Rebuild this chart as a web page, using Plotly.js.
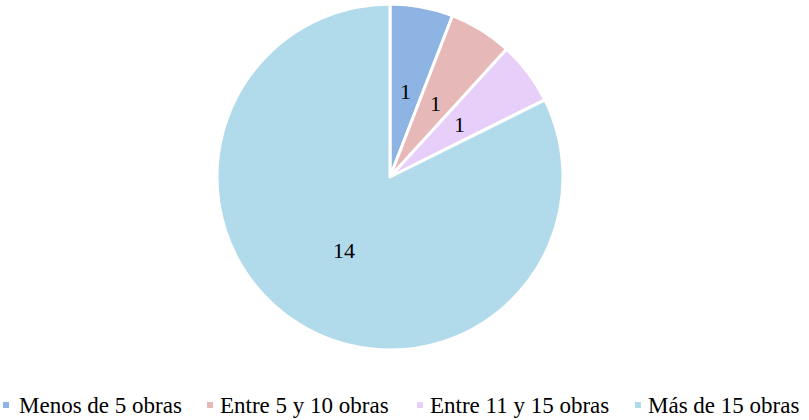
<!DOCTYPE html>
<html><head><meta charset="utf-8">
<script src="https://cdn.plot.ly/plotly-3.0.1.min.js"></script>
<style>html,body{margin:0;padding:0;background:#fff}</style>
</head><body>
<div id="chart" style="width:809px;height:420px"></div>
<script>
const labels = ["Menos de 5 obras", "Entre 5 y 10 obras", "Entre 11 y 15 obras", "Más de 15 obras"];
const values = [1, 1, 1, 14];
const colors = ["#8EB4E3", "#E6B9B8", "#E8CFFA", "#B1DAEB"];

const W = 809, H = 420;
const font = "Liberation Serif";

// pie geometry (pixels)
const cx = 390, cy = 177, R = 173;
const labelRadius = 0.5;

const annotations = [], shapes = [];

// value labels placed along each slice's mid-angle, computed from the data
const total = values.reduce((a, b) => a + b, 0);
let cum = 0;
values.forEach((v, i) => {
  const mid = (cum + v / 2) / total * 2 * Math.PI; // clockwise from 12 o'clock
  cum += v;
  const px = cx + Math.sin(mid) * R * labelRadius;
  const py = cy - Math.cos(mid) * R * labelRadius;
  annotations.push({xref: "paper", yref: "paper", x: px / W, y: 1 - py / H,
    xanchor: "center", yanchor: "middle", showarrow: false, text: String(v),
    font: {family: font, size: 22, color: "#000"}});
});

// custom legend (layout positions in pixels)
const legendMarkerX = [3, 207, 417, 635];
const legendTextX = [17, 218, 428, 646];
const legendY = 405;
labels.forEach((l, i) => {
  shapes.push({type: "rect", xref: "paper", yref: "paper",
    x0: legendMarkerX[i] / W, x1: (legendMarkerX[i] + 6) / W,
    y0: 1 - (legendY + 3) / H, y1: 1 - (legendY - 3) / H,
    fillcolor: colors[i], line: {width: 0}});
  annotations.push({xref: "paper", yref: "paper", x: legendTextX[i] / W, y: 1 - legendY / H,
    xanchor: "left", yanchor: "middle", showarrow: false, text: l,
    font: {family: font, size: 23, color: "#000"}});
});

Plotly.newPlot("chart", [{
  type: "pie", labels: labels, values: values, sort: false, direction: "clockwise", rotation: 0,
  marker: {colors: colors, line: {color: "#fff", width: 3}},
  textinfo: "none",
  domain: {x: [(cx - R) / W, (cx + R) / W], y: [1 - (cy + R) / H, 1 - (cy - R) / H]},
  showlegend: false, hoverinfo: "label+value"
}], {
  width: W, height: H, margin: {l: 0, r: 0, t: 0, b: 0},
  paper_bgcolor: "#fff", showlegend: false,
  annotations: annotations, shapes: shapes
}, {displayModeBar: false});
</script>
</body></html>
